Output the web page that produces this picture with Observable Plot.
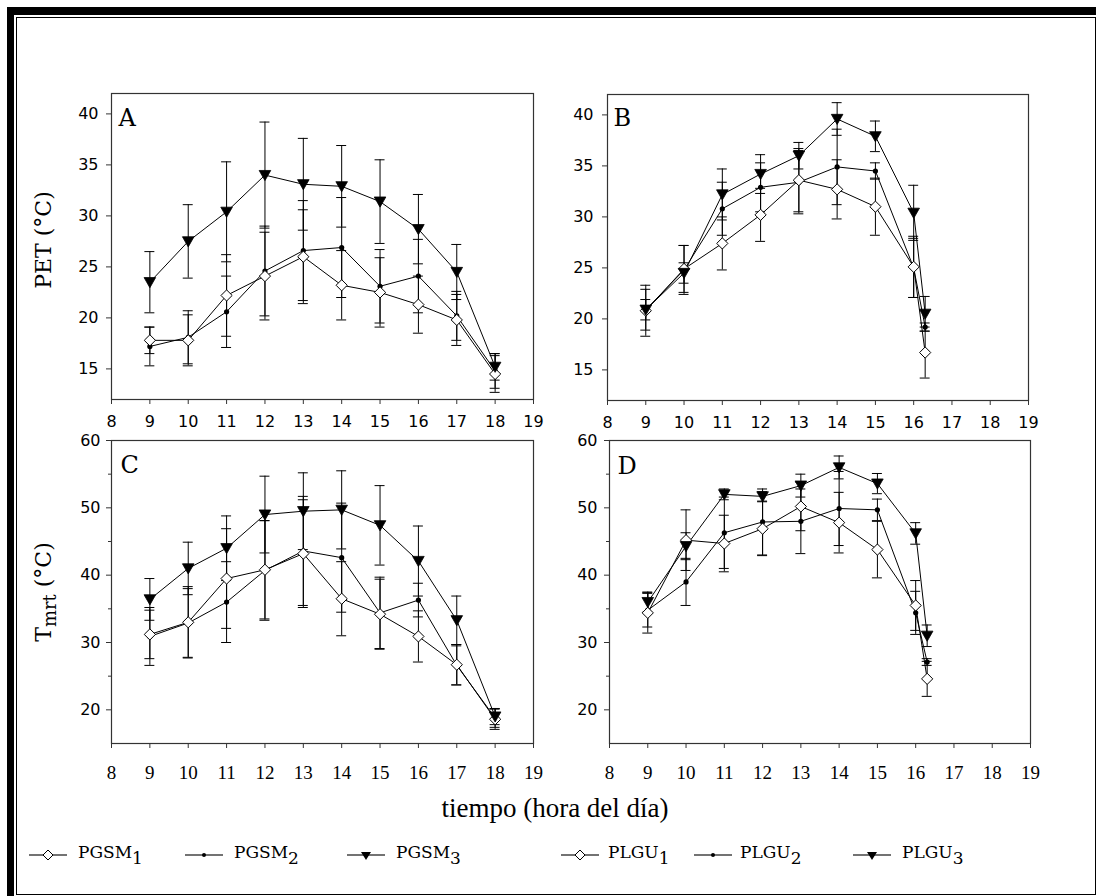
<!DOCTYPE html>
<html><head><meta charset="utf-8">
<script src="https://cdn.jsdelivr.net/npm/d3@7"></script>
<script src="https://cdn.jsdelivr.net/npm/@observablehq/plot@0.6"></script>
<style>
body{margin:0;background:#fff;}
#page{position:relative;width:1096px;height:896px;overflow:hidden;background:#fff;}
.abs{position:absolute;}
.leg{position:absolute;font-family:"DejaVu Serif",serif;font-size:17px;color:#000;white-space:nowrap;}
.leg sub{font-size:17px;vertical-align:baseline;position:relative;top:6px;}
</style></head><body><div id="page"></div>
<script>
// ---------- data ----------
const hoursPGSM = [9, 10, 11, 12, 13, 14, 15, 16, 17, 18];
const hoursPLGU = [9, 10, 11, 12, 13, 14, 15, 16, 16.3];
const xTicks = [8, 9, 10, 11, 12, 13, 14, 15, 16, 17, 18, 19];
const petTicks = [15, 20, 25, 30, 35, 40];
const tmrtTicks = [20, 30, 40, 50, 60];
const tmrtMinorTicks = [25, 35, 45, 55];

// Panel A: PET, PGSM
const petPGSM1 = [17.8, 17.8, 22.2, 24.1, 26.0, 23.2, 22.5, 21.3, 19.8, 14.5];
const petPGSM1Err = [1.3, 2.5, 4.0, 4.3, 4.6, 3.4, 3.4, 2.8, 2.5, 1.8];
const petPGSM2 = [17.2, 18.1, 20.6, 24.6, 26.6, 26.9, 23.1, 24.1, 20.2, 14.8];
const petPGSM2Err = [1.9, 2.6, 3.5, 4.4, 4.9, 4.9, 3.6, 3.6, 2.4, 1.7];
const petPGSM3 = [23.5, 27.5, 30.4, 34.0, 33.1, 32.9, 31.4, 28.7, 24.5, 15.2];
const petPGSM3Err = [3.0, 3.6, 4.9, 5.2, 4.5, 4.0, 4.1, 3.4, 2.7, 1.3];

// Panel B: PET, PLGU
const petPLGU1 = [20.8, 24.9, 27.4, 30.2, 33.6, 32.7, 31.0, 25.1, 16.7];
const petPLGU1Err = [2.5, 2.3, 2.6, 2.6, 3.1, 2.9, 2.8, 3.0, 2.5];
const petPLGU2 = [20.9, 24.8, 30.8, 32.9, 33.4, 34.9, 34.5, 25.0, 19.2];
const petPLGU2Err = [2.0, 2.4, 2.6, 2.4, 3.1, 3.7, 0.8, 2.9, 0.4];
const petPLGU3 = [20.9, 24.5, 32.2, 34.2, 36.0, 39.6, 37.9, 30.4, 20.5];
const petPLGU3Err = [1.0, 1.0, 2.5, 1.9, 1.3, 1.6, 1.5, 2.7, 1.7];

// Panel C: Tmrt, PGSM
const tmrtPGSM1 = [31.2, 33.0, 39.5, 40.8, 43.2, 36.5, 34.2, 30.9, 26.7, 18.6];
const tmrtPGSM1Err = [3.6, 5.3, 7.4, 7.3, 8.0, 5.5, 5.2, 3.8, 3.0, 1.5];
const tmrtPGSM2 = [30.9, 32.9, 36.0, 40.7, 43.6, 42.6, 34.4, 36.3, 26.6, 18.8];
const tmrtPGSM2Err = [4.3, 5.1, 6.0, 7.4, 8.1, 8.1, 5.3, 2.5, 2.9, 1.4];
const tmrtPGSM3 = [36.4, 41.0, 44.0, 49.0, 49.5, 49.7, 47.4, 42.1, 33.3, 19.0];
const tmrtPGSM3Err = [3.1, 3.9, 4.8, 5.7, 5.7, 5.8, 5.9, 5.2, 3.6, 1.2];

// Panel D: Tmrt, PLGU
const tmrtPLGU1 = [34.4, 45.2, 44.7, 46.9, 50.2, 47.8, 43.8, 35.5, 24.6];
const tmrtPLGU1Err = [3.0, 4.5, 4.2, 4.0, 3.6, 4.5, 4.2, 3.7, 2.6];
const tmrtPLGU2 = [34.8, 39.0, 46.3, 47.9, 48.0, 49.9, 49.7, 34.4, 27.1];
const tmrtPLGU2Err = [2.5, 3.5, 5.3, 4.9, 4.8, 5.5, 1.6, 3.2, 0.5];
const tmrtPLGU3 = [36.0, 44.3, 52.0, 51.7, 53.3, 56.0, 53.6, 46.2, 31.0];
const tmrtPLGU3Err = [1.5, 2.0, 0.8, 0.7, 1.7, 1.7, 1.5, 1.6, 1.6];

const legendPGSM = ["PGSM", "PGSM", "PGSM"];
const legendPLGU = ["PLGU", "PLGU", "PLGU"];
const legendSubs = ["1", "2", "3"];

// ---------- symbols ----------
const diamondSym = {draw(ctx, size){const r=Math.sqrt(size/Math.PI);ctx.moveTo(0,-r);ctx.lineTo(r,0);ctx.lineTo(0,r);ctx.lineTo(-r,0);ctx.closePath();}};
const triDownSym = {draw(ctx, size){const r=Math.sqrt(size/Math.PI);ctx.moveTo(-r,-0.8*r);ctx.lineTo(r,-0.8*r);ctx.lineTo(0,0.95*r);ctx.closePath();}};

function rows(xs, ys, es, s){ return xs.map((x,i)=>({x, y: ys[i], e: es[i], s})); }

const page = document.getElementById("page");
function place(el, left, top){ el.style.position="absolute"; el.style.left=left+"px"; el.style.top=top+"px"; page.appendChild(el); }

function panel(cfg){
  const data = [
    ...rows(cfg.xs, cfg.s1, cfg.e1, 1),
    ...rows(cfg.xs, cfg.s2, cfg.e2, 2),
    ...rows(cfg.xs, cfg.s3, cfg.e3, 3)
  ];
  const cap = 0.13;
  const marks = [
    Plot.frame({stroke:"#333", strokeWidth:1.2}),
    Plot.axisX({ticks: xTicks, tickSize:5, tickPadding: cfg.xPad, tickFormat: d=>String(d), label:null,
      fontFamily: cfg.xFont, fontSize: cfg.xSize, stroke:"#333"}),
    Plot.axisY({ticks: cfg.yTicks, tickSize:5, tickPadding: cfg.yPad, tickFormat: d=>String(d), label:null,
      fontFamily:"DejaVu Sans", fontSize:16, stroke:"#333"})
  ];
  if (cfg.minor) marks.push(Plot.axisY({ticks: cfg.minor, tickSize:3, tickFormat: ()=>"", label:null, stroke:"#333"}));
  marks.push(
    Plot.line(data, {x:"x", y:"y", z:"s", stroke:"#000", strokeWidth:1}),
    Plot.ruleX(data, {x:"x", y1: d=>d.y-d.e, y2: d=>d.y+d.e, stroke:"#000", strokeWidth:1}),
    Plot.ruleY(data, {y: d=>d.y+d.e, x1: d=>d.x-cap, x2: d=>d.x+cap, stroke:"#000", strokeWidth:1}),
    Plot.ruleY(data, {y: d=>d.y-d.e, x1: d=>d.x-cap, x2: d=>d.x+cap, stroke:"#000", strokeWidth:1}),
    Plot.dot(data.filter(d=>d.s===2), {x:"x", y:"y", r:2.6, fill:"#000", stroke:"none"}),
    Plot.dot(data.filter(d=>d.s===1), {x:"x", y:"y", r:5.6, symbol: diamondSym, fill:"#fff", stroke:"#000", strokeWidth:1}),
    Plot.dot(data.filter(d=>d.s===3), {x:"x", y:"y", r:5.8, symbol: triDownSym, fill:"#000", stroke:"#000", strokeWidth:0.8}),
    Plot.text([cfg.letter], {frameAnchor:"top-left", dx: cfg.ldx, dy: cfg.ldy, text: d=>d, textAnchor:"start", lineAnchor:"top",
      fontFamily:"DejaVu Serif", fontSize:24, fill:"#000"})
  );
  const svg = Plot.plot({
    width: cfg.width, height: cfg.height,
    marginLeft: cfg.ml, marginRight: cfg.mr, marginTop: cfg.mt, marginBottom: cfg.mb,
    style:{background:"transparent", color:"#000", overflow:"visible", fontFamily:"DejaVu Sans"},
    x:{domain:[8,19]},
    y:{domain: cfg.yDomain},
    marks
  });
  place(svg, cfg.left, cfg.top);
}

panel({xs: hoursPGSM, s1: petPGSM1, e1: petPGSM1Err, s2: petPGSM2, e2: petPGSM2Err, s3: petPGSM3, e3: petPGSM3Err,
  yDomain:[12,42], yTicks: petTicks, letter:"A", ldx:7, ldy:15,
  left:51, top:63, width:490, height:376, ml:60, mr:8, mt:30, mb:40, xPad:11, yPad:8, xFont:"DejaVu Sans", xSize:16});
panel({xs: hoursPLGU, s1: petPLGU1, e1: petPLGU1Err, s2: petPLGU2, e2: petPLGU2Err, s3: petPLGU3, e3: petPLGU3Err,
  yDomain:[12,42], yTicks: petTicks, letter:"B", ldx:6, ldy:14,
  left:547, top:64, width:490, height:376, ml:60, mr:9, mt:30, mb:40, xPad:11, yPad:9, xFont:"DejaVu Sans", xSize:16});
panel({xs: hoursPGSM, s1: tmrtPGSM1, e1: tmrtPGSM1Err, s2: tmrtPGSM2, e2: tmrtPGSM2Err, s3: tmrtPGSM3, e3: tmrtPGSM3Err,
  yDomain:[15,60], yTicks: tmrtTicks, minor: tmrtMinorTicks, letter:"C", ldx:9, ldy:15,
  left:51, top:410, width:490, height:378, ml:60, mr:8, mt:30, mb:45, xPad:17, yPad:6, xFont:"Liberation Serif", xSize:19});
panel({xs: hoursPLGU, s1: tmrtPLGU1, e1: tmrtPLGU1Err, s2: tmrtPLGU2, e2: tmrtPLGU2Err, s3: tmrtPLGU3, e3: tmrtPLGU3Err,
  yDomain:[15,60], yTicks: tmrtTicks, minor: tmrtMinorTicks, letter:"D", ldx:8, ldy:16,
  left:549, top:410, width:490, height:378, ml:60, mr:9, mt:30, mb:45, xPad:17, yPad:7, xFont:"Liberation Serif", xSize:19});

// ---------- frame decoration ----------
function box(l,t,w,h,style){const d=document.createElement("div");d.style.cssText=`position:absolute;left:${l}px;top:${t}px;width:${w}px;height:${h}px;box-sizing:border-box;${style}`;page.appendChild(d);}
box(7,7,1089,8,"background:#000");
box(7,7,7,889,"background:#000");
box(16,17,1080,878,"border:1.5px solid #000");

// ---------- axis titles ----------
function rotLabel(html, cx, cy){
  const d=document.createElement("div");
  d.innerHTML=html;
  d.style.cssText=`position:absolute;left:${cx}px;top:${cy}px;transform:translate(-50%,-50%) rotate(-90deg);font-family:"DejaVu Serif",serif;font-size:22px;white-space:nowrap;color:#000;`;
  page.appendChild(d);
}
rotLabel("PET (°C)", 43, 240);
rotLabel('T<span style="font-size:18px;position:relative;top:5px">mrt</span> (°C)', 43, 592);

const xt=document.createElement("div");
xt.textContent="tiempo (hora del día)";
xt.style.cssText='position:absolute;left:555px;top:808px;transform:translate(-50%,-50%);font-family:"Liberation Serif",serif;font-size:27px;white-space:nowrap;color:#000;';
page.appendChild(xt);

// ---------- legend ----------
function swatch(left, kind){
  const ns="http://www.w3.org/2000/svg";
  const s=document.createElementNS(ns,"svg");
  s.setAttribute("width","40");s.setAttribute("height","16");
  s.style.cssText=`position:absolute;left:${left}px;top:847px;overflow:visible`;
  const l=document.createElementNS(ns,"line");
  l.setAttribute("x1","0");l.setAttribute("x2","38");l.setAttribute("y1","8");l.setAttribute("y2","8");
  l.setAttribute("stroke","#444");l.setAttribute("stroke-width","1.3");s.appendChild(l);
  const p=document.createElementNS(ns,"path");
  if(kind===1){p.setAttribute("d","M19,3 L24,8 L19,13 L14,8 Z");p.setAttribute("fill","#fff");p.setAttribute("stroke","#000");}
  else if(kind===2){p.setAttribute("d","M21,8 A2,2 0 1 1 17,8 A2,2 0 1 1 21,8 Z");p.setAttribute("fill","#000");}
  else {p.setAttribute("d","M14,5 L24,5 L19,13 Z");p.setAttribute("fill","#000");}
  s.appendChild(p);
  page.appendChild(s);
}
const legItems = [
  {sw:29, tx:78, name:legendPGSM[0], sub:legendSubs[0], k:1},
  {sw:185, tx:234, name:legendPGSM[1], sub:legendSubs[1], k:2},
  {sw:347, tx:396, name:legendPGSM[2], sub:legendSubs[2], k:3},
  {sw:561, tx:608, name:legendPLGU[0], sub:legendSubs[0], k:1},
  {sw:694, tx:740, name:legendPLGU[1], sub:legendSubs[1], k:2},
  {sw:853, tx:902, name:legendPLGU[2], sub:legendSubs[2], k:3}
];
for(const it of legItems){
  swatch(it.sw, it.k);
  const t=document.createElement("div");
  t.className="leg";
  t.innerHTML=`${it.name}<sub>${it.sub}</sub>`;
  t.style.left=it.tx+"px"; t.style.top="842px";
  page.appendChild(t);
}
</script></body></html>
